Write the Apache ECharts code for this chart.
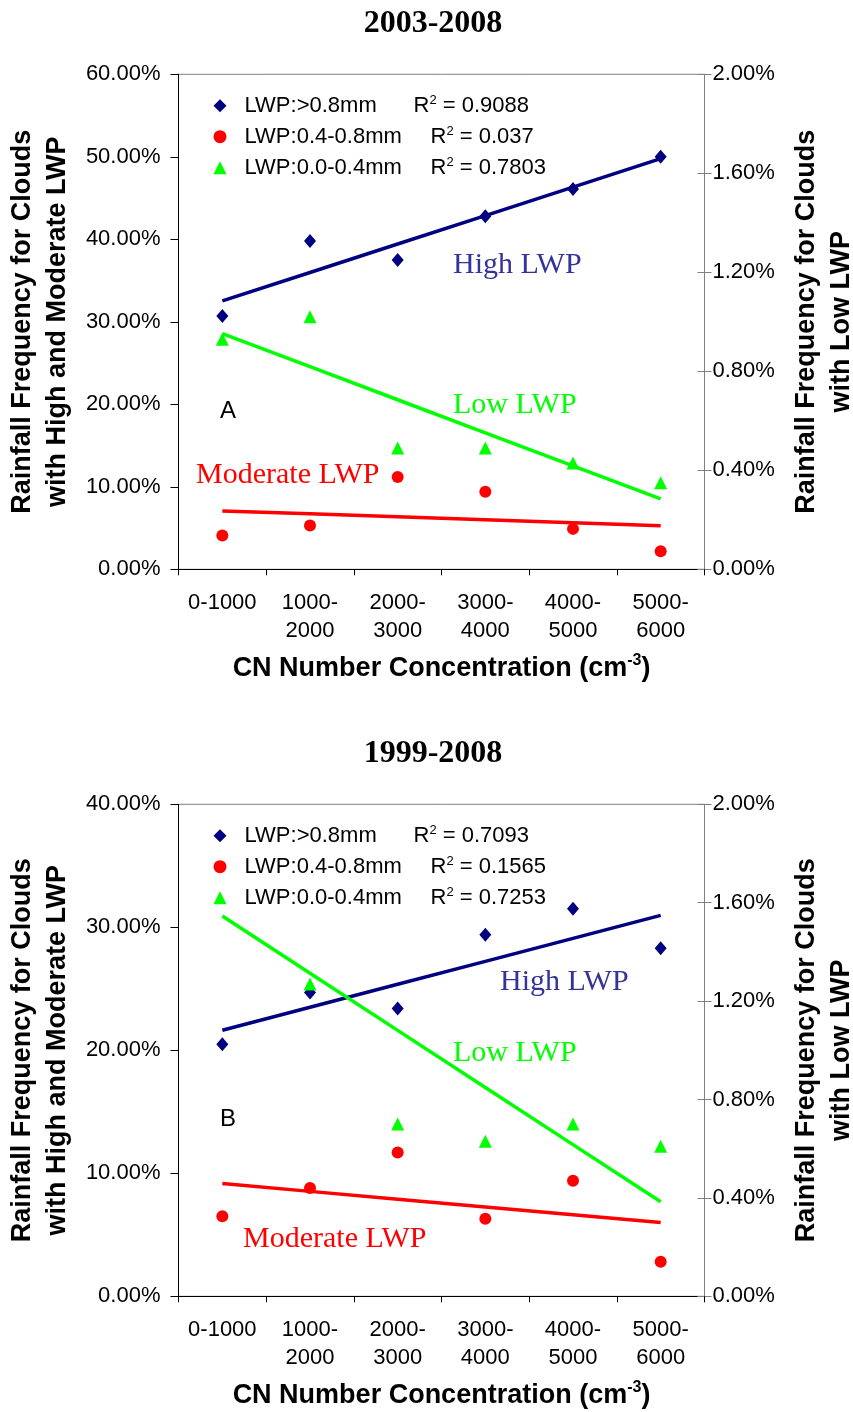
<!DOCTYPE html>
<html><head><meta charset="utf-8">
<script src="https://cdn.jsdelivr.net/npm/echarts@6/dist/echarts.min.js"></script>
<style>html,body{margin:0;padding:0;background:#fff}#c{width:853px;height:1412px}</style>
</head><body><div id="c"></div>
<script>
// ---------- data ----------
const categories = ['0-1000', '1000-\n2000', '2000-\n3000', '3000-\n4000', '4000-\n5000', '5000-\n6000'];
const seriesNames = ['LWP:>0.8mm', 'LWP:0.4-0.8mm', 'LWP:0.0-0.4mm'];
const panelTitles = ['2003-2008', '1999-2008'];
const panelLetters = ['A', 'B'];

// 2003-2008 (left axis %, right axis % for low LWP)
const highA = [30.7, 39.8, 37.5, 42.8, 46.1, 50.0];
const modA  = [4.1, 5.3, 11.2, 9.4, 4.9, 2.2];
const lowA  = [0.93, 1.02, 0.49, 0.49, 0.43, 0.35];
const r2A   = ['0.9088', '0.037', '0.7803'];

// 1999-2008
const highB = [20.5, 24.7, 23.4, 29.4, 31.5, 28.3];
const modB  = [6.5, 8.8, 11.7, 6.3, 9.4, 2.8];
const lowB  = [1.88, 1.27, 0.70, 0.63, 0.70, 0.61];
const r2B   = ['0.7093', '0.1565', '0.7253'];

const leftMax = [60, 40];
const leftInterval = 10;
const rightMax = 2;
const rightInterval = 0.4;

// ---------- helpers ----------
function trend(vals) {
  const n = vals.length;
  let sx = 0, sy = 0;
  for (let i = 0; i < n; i++) { sx += i + 1; sy += vals[i]; }
  const mx = sx / n, my = sy / n;
  let sxy = 0, sxx = 0;
  for (let i = 0; i < n; i++) { sxy += (i + 1 - mx) * (vals[i] - my); sxx += (i + 1 - mx) * (i + 1 - mx); }
  const b = sxy / sxx, a = my - b * mx;
  return vals.map((_, i) => +(a + b * (i + 1)).toFixed(4));
}

const SANS = 'Liberation Sans, Arial, sans-serif';
const SERIF = 'Liberation Serif, Times New Roman, serif';
const NAVY = '#000080', RED = '#FF0000', GREEN = '#00FF00';

const layout = [
  { oy: 0, top: 74.3, h: 495 },
  { oy: 730, top: 804.3, h: 492 }
];
const annot = [
  [
    { t: 'High LWP', x: 453, y: 265, c: '#333399', f: SERIF, s: 30 },
    { t: 'Low LWP', x: 453, y: 405, c: GREEN, f: SERIF, s: 30 },
    { t: 'Moderate LWP', x: 196, y: 475, c: RED, f: SERIF, s: 30 },
    { t: 'A', x: 220, y: 411, c: '#000', f: SANS, s: 24 }
  ],
  [
    { t: 'High LWP', x: 500, y: 982, c: '#333399', f: SERIF, s: 30 },
    { t: 'Low LWP', x: 453, y: 1053, c: GREEN, f: SERIF, s: 30 },
    { t: 'Moderate LWP', x: 243, y: 1239, c: RED, f: SERIF, s: 30 },
    { t: 'B', x: 220, y: 1119, c: '#000', f: SANS, s: 24 }
  ]
];

const panels = [
  { high: highA, mod: modA, low: lowA, r2: r2A },
  { high: highB, mod: modB, low: lowB, r2: r2B }
];

const option = {
  animation: false,
  backgroundColor: '#fff',
  title: [], grid: [], xAxis: [], yAxis: [], series: [], legend: [], graphic: []
};

const pctFmt = v => v.toFixed(2) + '%';

panels.forEach((p, i) => {
  const L = layout[i];
  option.title.push({
    text: panelTitles[i], left: 433, top: L.oy + 8, textAlign: 'center', padding: 0,
    textStyle: { fontFamily: SERIF, fontWeight: 'bold', fontSize: 32, color: '#000' }
  });
  option.grid.push({
    left: 178.5, top: L.top, width: 526, height: L.h,
    show: true, borderColor: '#808080', borderWidth: 1, backgroundColor: 'transparent',
    containLabel: false, outerBoundsMode: 'none'
  });
  option.xAxis.push({
    gridIndex: i, type: 'category', data: categories, boundaryGap: true,
    axisLine: { show: true, lineStyle: { color: '#000', width: 1 } },
    axisTick: { show: true, length: 6, lineStyle: { color: '#000' } },
    axisLabel: { interval: 0, fontFamily: SANS, fontSize: 22, color: '#000', margin: 20, lineHeight: 28 },
    splitLine: { show: false },
    name: 'CN Number Concentration (cm{sup|-3})',
    nameLocation: 'middle', nameGap: 83,
    nameTextStyle: {
      fontFamily: SANS, fontWeight: 'bold', fontSize: 27, color: '#000', lineHeight: 32,
      rich: { sup: { fontFamily: SANS, fontWeight: 'bold', fontSize: 16, lineHeight: 16, verticalAlign: 'top', color: '#000' } }
    }
  });
  // left axis
  option.yAxis.push({
    gridIndex: i, type: 'value', position: 'left', min: 0, max: leftMax[i], interval: leftInterval,
    axisLine: { show: true, lineStyle: { color: '#000' } },
    axisTick: { show: true, length: 8, lineStyle: { color: '#000' } },
    splitLine: { show: false },
    axisLabel: { formatter: pctFmt, fontFamily: SANS, fontSize: 22, color: '#000', margin: 18 },
    name: 'Rainfall Frequency for Clouds\nwith High and Moderate LWP',
    nameLocation: 'middle', nameRotate: 90, nameGap: 102,
    nameTextStyle: { fontFamily: SANS, fontWeight: 'bold', fontSize: 27, lineHeight: 35, color: '#000', align: 'center' }
  });
  // right axis
  option.yAxis.push({
    gridIndex: i, type: 'value', position: 'right', min: 0, max: rightMax, interval: rightInterval,
    axisLine: { show: true, lineStyle: { color: '#808080' } },
    axisTick: { show: true, length: 7, lineStyle: { color: '#808080' } },
    splitLine: { show: false },
    axisLabel: { formatter: pctFmt, fontFamily: SANS, fontSize: 22, color: '#000', margin: 8 },
    name: 'Rainfall Frequency for Clouds\nwith Low LWP',
    nameLocation: 'middle', nameRotate: 90, nameGap: 85,
    nameTextStyle: { fontFamily: SANS, fontWeight: 'bold', fontSize: 27, lineHeight: 35, color: '#000', align: 'center' }
  });
  // inner half of the cross ticks on the right axis
  option.yAxis.push({
    gridIndex: i, type: 'value', position: 'right', min: 0, max: rightMax, interval: rightInterval,
    axisLine: { show: false }, axisLabel: { show: false }, splitLine: { show: false },
    axisTick: { show: true, inside: true, length: 7, lineStyle: { color: '#808080' } }
  });
  const yl = 3 * i, yr = 3 * i + 1;
  const sc = (name, data, sym, size, color, yIdx) => ({
    type: 'scatter', name, data, symbol: sym, symbolSize: size, xAxisIndex: i, yAxisIndex: yIdx,
    itemStyle: { color, opacity: 1 }, z: 3, silent: true
  });
  const tl = (name, data, color, yIdx) => ({
    type: 'line', name: name + ' trend', data, xAxisIndex: i, yAxisIndex: yIdx,
    symbol: 'none', lineStyle: { color, width: 3.5 }, z: 2, silent: true
  });
  option.series.push(
    tl(seriesNames[0], trend(p.high), NAVY, yl),
    tl(seriesNames[1], trend(p.mod), RED, yl),
    tl(seriesNames[2], trend(p.low), GREEN, yr),
    sc(seriesNames[0], p.high, 'diamond', [12, 14], NAVY, yl),
    sc(seriesNames[1], p.mod, 'circle', 12, RED, yl),
    sc(seriesNames[2], p.low, 'triangle', 13, GREEN, yr)
  );
  const r2 = p.r2;
  option.legend.push({
    orient: 'vertical', left: 205.5, top: L.top + 15.4, selectedMode: false,
    backgroundColor: '#fff', padding: [4, 8, 4, 8], itemGap: 7,
    itemWidth: 13, itemHeight: 13,
    data: [
      { name: seriesNames[0], icon: 'diamond', itemStyle: { color: NAVY } },
      { name: seriesNames[1], icon: 'circle', itemStyle: { color: RED } },
      { name: seriesNames[2], icon: 'triangle', itemStyle: { color: GREEN } }
    ],
    formatter: function (name) {
      const k = seriesNames.indexOf(name);
      return '{g| }{' + (k === 0 ? 'na' : 'nb') + '|' + name + '}{r|R}{s|2}{r| = ' + r2[k] + '}';
    },
    textStyle: {
      fontFamily: SANS, fontSize: 22, color: '#000', lineHeight: 24,
      rich: {
        g: { width: 13, fontSize: 22, lineHeight: 24 },
        na: { width: 169, fontFamily: SANS, fontSize: 22, lineHeight: 24, color: '#000' },
        nb: { width: 186, fontFamily: SANS, fontSize: 22, lineHeight: 24, color: '#000' },
        r: { fontFamily: SANS, fontSize: 22, lineHeight: 24, color: '#000' },
        s: { fontFamily: SANS, fontSize: 13, lineHeight: 13, verticalAlign: 'top', color: '#000' }
      }
    }
  });
  annot[i].forEach(a => {
    option.graphic.push({
      type: 'text', x: a.x, y: a.y, silent: true, z: 10,
      style: { text: a.t, fill: a.c, fontFamily: a.f, fontSize: a.s, verticalAlign: 'middle', align: 'left' }
    });
  });
});

const chart = echarts.init(document.getElementById('c'), null, { renderer: 'canvas' });
chart.setOption(option);
</script>
</body></html>
